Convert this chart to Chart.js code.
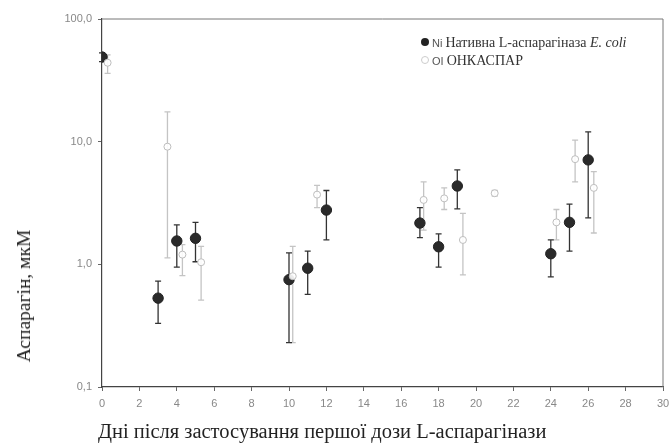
<!DOCTYPE html>
<html>
<head>
<meta charset="utf-8">
<script src="https://cdn.jsdelivr.net/npm/chart.js@4"></script>
<style>
  body { margin: 0; background: #fff; }
  #wrap { position: relative; width: 670px; height: 447px; }
  .lbl { position: absolute; font-family: "Liberation Serif", "DejaVu Serif", serif; color: #222; white-space: nowrap; }
  #ytitle { left: 24px; top: 296px; font-size: 19.5px; transform: translate(-50%, -50%) rotate(-90deg); }
  #xtitle { left: 98px; top: 420px; font-size: 20.5px; }
  .leg { position: absolute; font-family: "Liberation Serif", serif; font-size: 14px; color: #333; white-space: nowrap; }
  .leg small { font-family: "Liberation Sans", sans-serif; font-size: 11px; color: #555; margin-right: 3px; }
  .dot { display: inline-block; width: 8px; height: 8px; border-radius: 50%; margin-right: 3px; vertical-align: 1px; }
</style>
</head>
<body>
<div id="wrap">
  <canvas id="canvas-1" width="670" height="447"></canvas>
  <div class="lbl" id="ytitle">Аспарагін, мкМ</div>
  <div class="lbl" id="xtitle">Дні після застосування першої дози L-аспарагінази</div>
  <div class="leg" style="left:421px; top:35px;"><span class="dot" style="background:#222"></span><small>Ni</small>Нативна L-аспарагіназа <i>E. coli</i></div>
  <div class="leg" style="left:421px; top:53px;"><span class="dot" style="border:1px solid #ccc; width:6px; height:6px"></span><small>OI</small>ОНКАСПАР</div>
</div>
<script>
// values (µM, log scale)
const nativeDays = [0, 3, 4, 5, 10, 11, 12, 17, 18, 19, 24, 25, 26]
const nativeMean = [49, 0.53, 1.55, 1.63, 0.75, 0.93, 2.77, 2.17, 1.39, 4.35, 1.22, 2.2, 7.1]
const nativeHigh = [53, 0.73, 2.1, 2.2, 1.24, 1.28, 4.0, 2.9, 1.77, 5.9, 1.58, 3.1, 12]
const nativeLow = [45, 0.33, 0.95, 1.05, 0.23, 0.57, 1.58, 1.65, 0.95, 2.83, 0.79, 1.28, 2.39]

const oncDays = [0.3, 3.5, 4.3, 5.3, 10.2, 11.5, 17.2, 18.3, 19.3, 21, 24.3, 25.3, 26.3]
const oncMean = [44, 9.1, 1.2, 1.04, 0.8, 3.7, 3.35, 3.45, 1.58, 3.8, 2.2, 7.2, 4.2]
const oncHigh = [51, 17.5, 1.45, 1.4, 1.4, 4.4, 4.7, 4.2, 2.6, 4.0, 2.8, 10.3, 5.7]
const oncLow = [36, 1.13, 0.81, 0.51, 0.23, 2.9, 1.9, 2.8, 0.82, 3.6, 1.58, 4.7, 1.8]

const yTicks = [0.1, 1, 10, 100]

const toPoints = (xs, ys) => xs.map((x, i) => ({ x: x, y: ys[i] }))

// error bars + frame, drawn through the chart scales
const errorBars = {
  id: 'errorBars',
  beforeDatasetsDraw(chart) {
    const ctx = chart.ctx
    const xs = chart.scales.x
    const ys = chart.scales.y
    const sets = [
      [oncDays, oncHigh, oncLow, '#c4c4c4'],
      [nativeDays, nativeHigh, nativeLow, '#333']
    ]
    ctx.save()
    sets.forEach(([days, hi, lo, col]) => {
      ctx.strokeStyle = col
      ctx.lineWidth = 1.3
      days.forEach((d, i) => {
        const px = xs.getPixelForValue(d)
        const t = ys.getPixelForValue(hi[i])
        const b = ys.getPixelForValue(lo[i])
        ctx.beginPath()
        ctx.moveTo(px, t); ctx.lineTo(px, b)
        ctx.moveTo(px - 3, t); ctx.lineTo(px + 3, t)
        ctx.moveTo(px - 3, b); ctx.lineTo(px + 3, b)
        ctx.stroke()
      })
    })
    const a = chart.chartArea
    ctx.strokeStyle = '#777'
    ctx.lineWidth = 1
    ctx.beginPath()
    ctx.moveTo(a.left, a.top); ctx.lineTo(a.right, a.top); ctx.lineTo(a.right, a.bottom)
    ctx.stroke()
    ctx.restore()
  }
}

const scatterChart = new Chart(document.getElementById('canvas-1'), {
  type: 'scatter',
  data: {
    datasets: [
      {
        label: 'ОНКАСПАР',
        data: toPoints(oncDays, oncMean),
        pointRadius: 3.5,
        pointBorderColor: '#bdbdbd',
        pointBackgroundColor: 'rgba(255,255,255,0.9)',
        pointBorderWidth: 1
      },
      {
        label: 'Нативна L-аспарагіназа E. coli',
        data: toPoints(nativeDays, nativeMean),
        pointRadius: 5.2,
        pointBorderColor: '#222',
        pointBackgroundColor: '#2a2a2a'
      }
    ]
  },
  plugins: [errorBars],
  options: {
    responsive: false,
    animation: false,
    layout: { padding: { top: 19, right: 0, left: 0, bottom: 0 } },
    plugins: { legend: { display: false }, tooltip: { enabled: false } },
    scales: {
      x: {
        type: 'linear',
        min: 0,
        max: 30,
        border: { color: '#444', width: 1.2 },
        grid: { drawOnChartArea: false, tickLength: 4, color: '#666' },
        ticks: { stepSize: 2, color: '#888', font: { family: 'Liberation Sans', size: 11 }, padding: 6 },
        afterFit: (s) => { s.height = 60; s.paddingRight = 7 }
      },
      y: {
        type: 'logarithmic',
        min: 0.1,
        max: 100,
        border: { color: '#444', width: 1.2 },
        grid: { drawOnChartArea: false, tickLength: 4, color: '#666' },
        afterBuildTicks: (s) => { s.ticks = yTicks.map(v => ({ value: v })) },
        ticks: {
          color: '#888',
          font: { family: 'Liberation Sans', size: 11 },
          padding: 6,
          callback: (v) => Number(v).toFixed(1).replace('.', ',')
        },
        afterFit: (s) => { s.width = 102 }
      }
    }
  }
})
</script>
</body>
</html>
